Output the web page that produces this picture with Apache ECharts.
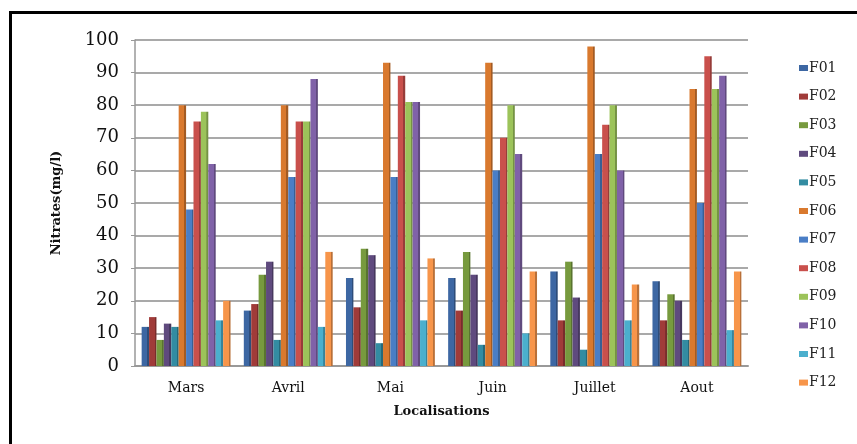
<!DOCTYPE html>
<html>
<head>
<meta charset="utf-8">
<script src="https://cdn.jsdelivr.net/npm/echarts@6/dist/echarts.min.js"></script>
<style>
  html, body { margin: 0; padding: 0; background: #fff; }
  #wrap { position: relative; width: 857px; height: 444px; overflow: hidden; }
  #chart { position: absolute; left: 0; top: 0; width: 857px; height: 444px; }
  #frame { position: absolute; left: 9px; top: 11px; width: 900px; height: 500px;
           border-top: 3px solid #000; border-left: 3px solid #000; pointer-events: none; }
</style>
</head>
<body>
<div id="wrap">
  <div id="chart"></div>
  <div id="frame"></div>
</div>
<script>
// Months of sampling
const categories = ['Mars', 'Avril', 'Mai', 'Juin', 'Juillet', 'Aout'];

// Nitrate concentration (mg/l) per well, one value per month
const F01 = [12, 17, 27, 27, 29, 26];
const F02 = [15, 19, 18, 17, 14, 14];
const F03 = [8, 28, 36, 35, 32, 22];
const F04 = [13, 32, 34, 28, 21, 20];
const F05 = [12, 8, 7, 6.5, 5, 8];
const F06 = [80, 80, 93, 93, 98, 85];
const F07 = [48, 58, 58, 60, 65, 50];
const F08 = [75, 75, 89, 70, 74, 95];
const F09 = [78, 75, 81, 80, 80, 85];
const F10 = [62, 88, 81, 65, 60, 89];
const F11 = [14, 12, 14, 10, 14, 11];
const F12 = [20, 35, 33, 29, 25, 29];

const seriesNames = ['F01', 'F02', 'F03', 'F04', 'F05', 'F06',
                     'F07', 'F08', 'F09', 'F10', 'F11', 'F12'];
const seriesData = [F01, F02, F03, F04, F05, F06, F07, F08, F09, F10, F11, F12];
const colors = ['#3d67a3', '#a03b39', '#779a3e', '#5f4a7e', '#338ca2', '#d9792e',
                '#4a7ec6', '#c9504c', '#9cc35a', '#8062a8', '#4bafcd', '#f7954a'];

const yTicks = [0, 10, 20, 30, 40, 50, 60, 70, 80, 90, 100];

// darken a hex colour for the shaded side of each bar
function shade(hex, f) {
  const n = parseInt(hex.slice(1), 16);
  const r = Math.round(((n >> 16) & 255) * f);
  const g = Math.round(((n >> 8) & 255) * f);
  const b = Math.round((n & 255) * f);
  return 'rgb(' + r + ',' + g + ',' + b + ')';
}

const chart = echarts.init(document.getElementById('chart'), null, { renderer: 'canvas' });

const serif = '"DejaVu Serif", "Liberation Serif", serif';

chart.setOption({
  animation: false,
  backgroundColor: '#fff',
  color: colors,
  grid: { left: 135, right: 109, top: 40, bottom: 78 },
  legend: {
    orient: 'vertical',
    left: 799,
    top: 61,
    padding: 0,
    itemWidth: 9,
    itemHeight: 6,
    itemGap: 14.6,
    icon: 'rect',
    data: seriesNames.map((name, i) => ({ name: name, itemStyle: { color: colors[i] } })),
    textStyle: { fontFamily: serif, fontSize: 14, color: '#222', padding: [0, 0, 0, -4] }
  },
  xAxis: {
    type: 'category',
    data: categories,
    name: 'Localisations',
    nameLocation: 'middle',
    nameGap: 39,
    nameTextStyle: { fontFamily: serif, fontSize: 13, fontWeight: 'bold', color: '#111' },
    axisLine: { show: true, lineStyle: { color: '#999', width: 2 } },
    axisTick: { show: false },
    axisLabel: { fontFamily: serif, fontSize: 14, color: '#111', margin: 15 }
  },
  yAxis: {
    type: 'value',
    min: yTicks[0],
    max: yTicks[yTicks.length - 1],
    interval: 10,
    name: 'Nitrates(mg/l)',
    nameLocation: 'middle',
    nameGap: 72,
    nameTextStyle: { fontFamily: serif, fontSize: 13, fontWeight: 'bold', color: '#111' },
    axisLine: { show: true, lineStyle: { color: '#999', width: 1.5 } },
    axisTick: { show: true, length: 4, lineStyle: { color: '#999' } },
    axisLabel: { fontFamily: serif, fontSize: 18, color: '#111', margin: 16 },
    splitLine: { show: true, lineStyle: { color: '#8c8c8c', width: 1.5 } }
  },
  series: seriesNames.map((name, i) => ({
    name: name,
    type: 'bar',
    data: seriesData[i],
    barGap: '0%',
    barCategoryGap: '13%',
    itemStyle: {
      color: {
        type: 'linear', x: 0, y: 0, x2: 1, y2: 0,
        colorStops: [
          { offset: 0, color: colors[i] },
          { offset: 0.75, color: colors[i] },
          { offset: 0.76, color: shade(colors[i], 0.75) },
          { offset: 1, color: shade(colors[i], 0.75) }
        ]
      }
    }
  }))
});
</script>
</body>
</html>
